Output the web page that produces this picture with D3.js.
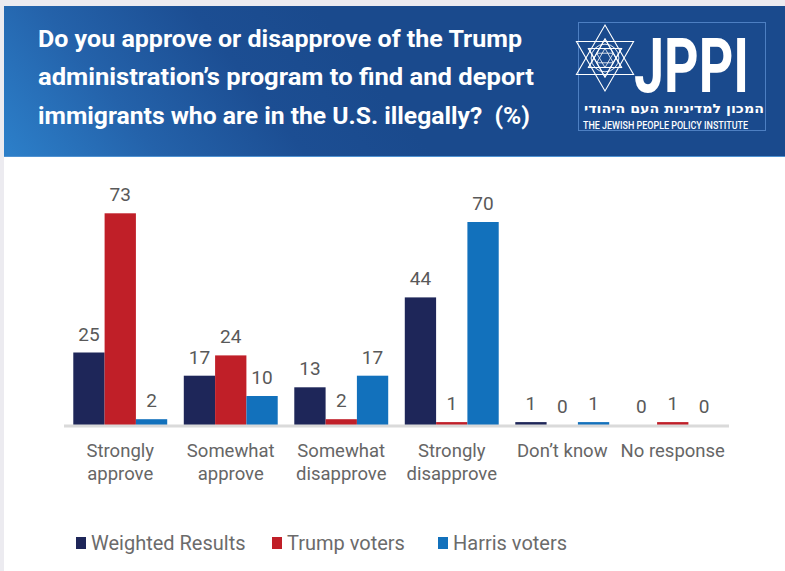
<!DOCTYPE html>
<html>
<head>
<meta charset="utf-8">
<script src="https://cdn.jsdelivr.net/npm/d3@7"></script>
<style>
  body { margin: 0; background: #ffffff; }
  svg { display: block; }
</style>
</head>
<body>
<svg id="chart" width="785" height="571"></svg>
<script>
// Survey answers (categories) and the share of each group giving them (%)
const categories = ["Strongly approve", "Somewhat approve", "Somewhat disapprove",
                    "Strongly disapprove", "Don’t know", "No response"];
const tickLabels = [["Strongly", "approve"], ["Somewhat", "approve"], ["Somewhat", "disapprove"],
                    ["Strongly", "disapprove"], ["Don’t know"], ["No response"]];
const seriesNames = ["Weighted Results", "Trump voters", "Harris voters"];
const weighted = [25, 17, 13, 44, 1, 0];
const trump    = [73, 24, 2, 1, 0, 1];
const harris   = [2, 10, 17, 70, 1, 0];
const colors   = ["#1e2659", "#c01f28", "#1271bc"];
const titleLines = ["Do you approve or disapprove of the Trump",
                    "administration’s program to find and deport",
                    "immigrants who are in the U.S. illegally?  (%)"];

const seriesValues = [weighted, trump, harris];
const rows = categories.map((c, i) => ({
  category: c,
  values: seriesNames.map((s, j) => ({ series: s, value: seriesValues[j][i], color: colors[j] }))
}));

const svg = d3.select("#chart");
const W = 785, H = 571;

// page frame: light grey margin on the left and top, white card
svg.append("rect").attr("width", W).attr("height", H).attr("fill", "#ecebf0");
svg.append("rect").attr("x", 4).attr("y", 6).attr("width", W - 4).attr("height", H - 6).attr("fill", "#ffffff");

// ---- header band ----
const defs = svg.append("defs");
const grad = defs.append("linearGradient").attr("id", "hdr")
  .attr("gradientUnits", "userSpaceOnUse")
  .attr("x1", 20).attr("y1", 165).attr("x2", 280).attr("y2", -40);
grad.append("stop").attr("offset", 0).attr("stop-color", "#2c7ec8");
grad.append("stop").attr("offset", 0.35).attr("stop-color", "#2462aa");
grad.append("stop").attr("offset", 0.7).attr("stop-color", "#1c4e93");
grad.append("stop").attr("offset", 1).attr("stop-color", "#1a4a8d");

svg.append("rect").attr("x", 4).attr("y", 6).attr("width", W - 4).attr("height", 151).attr("fill", "url(#hdr)");
svg.append("line").attr("x1", 4).attr("x2", W).attr("y1", 156.5).attr("y2", 156.5)
  .attr("stroke", "#4f92d2").attr("stroke-width", 1);

const titleLens = [484, 496, 492];
svg.append("g").selectAll("text").data(titleLines).join("text")
  .attr("x", 38).attr("y", (d, i) => 47 + i * 38.3)
  .attr("font-family", "Roboto, 'Open Sans', sans-serif")
  .attr("font-weight", 700).attr("font-size", 24)
  .attr("fill", "#ffffff")
  .attr("textLength", (d, i) => titleLens[i])
  .attr("lengthAdjust", "spacingAndGlyphs")
  .style("white-space", "pre")
  .text(d => d);

// ---- JPPI logo ----
const logo = svg.append("g");
logo.append("rect").attr("x", 578.5).attr("y", 22.5).attr("width", 187).attr("height", 108)
  .attr("fill", "none").attr("stroke", "#4d7fc2").attr("stroke-width", 1);

const cx = 605, cy = 58, R = 33;
const pt = (r, deg) => [cx + r * Math.cos(deg * Math.PI / 180), cy + r * Math.sin(deg * Math.PI / 180)];
const tri = (r, start) => [0, 120, 240].map(a => pt(r, start + a));
const line = d3.line().curve(d3.curveLinearClosed);
const star = logo.append("g").attr("fill", "none").attr("stroke", "#ffffff").attr("stroke-width", 1.1).attr("stroke-linejoin", "miter");
[R, R * 0.58].forEach(r => {
  star.append("path").attr("d", line(tri(r, -90)));
  star.append("path").attr("d", line(tri(r, 90)));
});
star.append("circle").attr("cx", cx).attr("cy", cy).attr("r", R * 0.42).attr("stroke-width", 0.9);
star.append("path").attr("d", line(d3.range(6).map(k => pt(R * 0.33, 60 * k))))
  .attr("stroke-width", 0.9);
star.append("path").attr("d", line(tri(R * 0.29, -90))).attr("stroke-width", 0.8);
star.append("path").attr("d", line(tri(R * 0.29, 90))).attr("stroke-width", 0.8);
// spokes from the outer points to the centre hexagon
d3.range(6).forEach(k => {
  const a = -90 + 60 * k;
  const p1 = pt(R * 0.58, a), p2 = pt(R * 0.33, a + 30), p3 = pt(R * 0.33, a - 30);
  star.append("path").attr("d", `M${p2}L${p1}L${p3}`).attr("stroke-width", 0.8);
});

// tall condensed wordmark: set at a smaller size and stretched vertically
logo.append("text")
  .attr("transform", "translate(634,92) scale(1,1.45)")
  .attr("font-family", "Roboto, 'Open Sans', sans-serif").attr("font-weight", 700)
  .attr("font-size", 52).attr("fill", "#ffffff")
  .attr("textLength", 115).attr("lengthAdjust", "spacingAndGlyphs")
  .text("JPPI");
logo.append("text").attr("x", 674).attr("y", 113)
  .attr("text-anchor", "middle")
  .attr("font-family", "'DejaVu Sans', sans-serif").attr("font-weight", 700)
  .attr("font-size", 12.5).attr("fill", "#ffffff")
  .attr("textLength", 180).attr("lengthAdjust", "spacingAndGlyphs")
  .text("המכון למדיניות העם היהודי");
logo.append("text").attr("x", 583).attr("y", 129)
  .attr("font-family", "Roboto, 'Open Sans', sans-serif").attr("font-weight", 500)
  .attr("font-size", 10).attr("fill", "#ffffff")
  .attr("textLength", 165).attr("lengthAdjust", "spacingAndGlyphs")
  .text("THE JEWISH PEOPLE POLICY INSTITUTE");

// ---- grouped bars ----
const baseY = 425;
const x0 = d3.scaleBand().domain(categories).range([65, 728]).paddingInner(0.15).paddingOuter(0.075);
const x1 = d3.scaleBand().domain(seriesNames).range([0, x0.bandwidth()]);
const y = d3.scaleLinear().domain([0, 80]).range([baseY, baseY - 80 * 2.9]);

const groups = svg.append("g").selectAll("g").data(rows).join("g")
  .attr("transform", d => `translate(${x0(d.category)},0)`);

groups.selectAll("rect").data(d => d.values).join("rect")
  .attr("x", d => x1(d.series))
  .attr("y", d => y(d.value))
  .attr("width", x1.bandwidth())
  .attr("height", d => y(0) - y(d.value))
  .attr("fill", d => d.color);

groups.selectAll("text").data(d => d.values).join("text")
  .attr("x", d => x1(d.series) + x1.bandwidth() / 2)
  .attr("y", d => y(d.value) - 12)
  .attr("text-anchor", "middle")
  .attr("font-family", "Roboto, 'Open Sans', sans-serif")
  .attr("font-size", 19)
  .attr("fill", "#595959")
  .text(d => d.value);

// category axis
const xAxis = svg.append("g").attr("transform", `translate(0,${baseY + 1})`)
  .call(d3.axisBottom(x0).tickSize(0).tickSizeOuter(0).tickFormat(""));
xAxis.select(".domain").attr("stroke", "#dadada").attr("stroke-width", 3)
  .attr("d", "M64,0H729");
xAxis.selectAll(".tick text").remove();
xAxis.selectAll(".tick").each(function (d, i) {
  const t = d3.select(this).append("text")
    .attr("text-anchor", "middle")
    .attr("font-family", "Roboto, 'Open Sans', sans-serif")
    .attr("font-size", 18.5)
    .attr("fill", "#666666")
    .attr("y", 0);
  tickLabels[i].forEach((s, k) => {
    t.append("tspan").attr("x", 0).attr("y", 31 + k * 23).text(s);
  });
});

// ---- legend ----
const legendX = [76, 272, 438];
const legend = svg.append("g").selectAll("g").data(seriesNames).join("g")
  .attr("transform", (d, i) => `translate(${legendX[i]},537)`);
legend.append("rect").attr("width", 10).attr("height", 12).attr("fill", (d, i) => colors[i]);
legend.append("text").attr("x", 15).attr("y", 13)
  .attr("font-family", "Roboto, 'Open Sans', sans-serif")
  .attr("font-size", 20)
  .attr("fill", "#6b6b6b")
  .text(d => d);
</script>
</body>
</html>
